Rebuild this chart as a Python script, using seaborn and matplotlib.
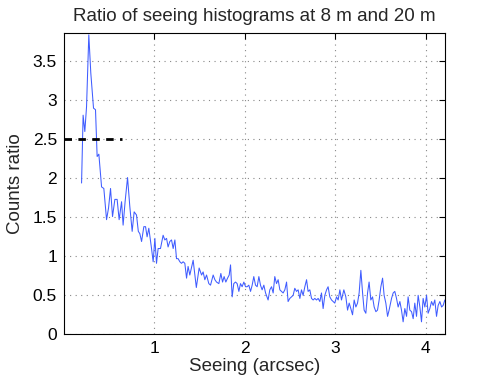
import numpy as np
import pandas as pd
import matplotlib
matplotlib.use("Agg")
import matplotlib.pyplot as plt
from matplotlib.ticker import FuncFormatter, FixedLocator
import seaborn as sns

seeing = [0.196,0.213,0.232,0.251,0.276,0.298,0.328,0.350,0.368,0.387,0.417,0.442,0.472,0.494,0.516,0.538,0.564,0.589,0.611,0.638,0.655,0.677,0.704,
          0.729,0.755,0.777,0.803,0.823,0.840,0.859,0.884,0.903,0.920,0.939,0.969,0.987,1.006,1.024,1.042,1.068,1.097,1.116,1.135,1.152,1.171,1.190,1.208,1.227,1.245,1.263,1.282,1.300,1.318,1.337,1.356,1.373,1.392,1.429,1.464,
          1.495,1.522,1.539,1.558,1.577,1.602,1.621,1.650,1.669,1.687,1.713,1.735,1.754,1.771,1.790,1.809,1.827,1.842,1.860,1.878,1.897,1.915,1.934,1.952,1.970,1.989,2.008,2.025,2.044,2.063,2.081,2.099,2.118,2.136,2.155,2.173,2.191,2.210,2.229,
          2.257,2.276,2.295,2.313,2.331,2.350,2.368,2.387,2.405,2.423,2.442,2.461,2.478,2.497,2.516,2.534,2.552,2.571,2.589,2.608,2.626,2.644,2.663,2.682,2.699,2.718,2.737,2.755,2.773,2.792,2.810,2.829,2.847,2.865,2.884,2.903,2.920,2.939,2.958,2.976,2.994,3.013,3.031,3.050,
          3.068,3.094,3.116,3.135,3.153,3.171,3.190,3.208,3.227,3.245,3.263,3.282,3.301,3.318,3.337,3.356,3.373,3.392,3.411,3.429,3.448,3.466,3.484,3.503,3.522,3.539,3.558,3.577,3.594,
          3.621,3.639,3.657,3.676,3.694,3.713,3.731,3.749,3.768,3.787,3.804,3.823,3.842,3.860,3.878,3.897,3.915,3.934,3.952,3.970,3.989,4.008,4.025,4.044,4.063,4.081,4.099,4.118,4.136,4.155,4.174,4.191,4.210]
ratio = [1.94,2.81,2.60,2.92,3.84,3.35,2.90,2.88,2.28,2.31,1.89,1.87,1.47,1.62,1.87,1.51,1.73,1.73,1.47,1.70,1.40,1.70,2.01,
         1.64,1.32,1.57,1.53,1.32,1.29,1.19,1.38,1.38,1.25,1.36,1.10,0.93,1.23,0.91,1.10,1.10,1.27,1.21,1.23,1.12,1.19,1.21,1.10,1.21,0.97,0.97,0.93,0.91,0.93,0.91,0.72,0.87,0.76,0.95,0.60,
         0.85,0.76,0.80,0.70,0.76,0.65,0.63,0.76,0.70,0.67,0.65,0.78,0.67,0.74,0.67,0.72,0.76,0.89,0.48,0.65,0.67,0.65,0.55,0.65,0.61,0.67,0.61,0.61,0.63,0.55,0.63,0.74,0.63,0.61,0.74,0.63,0.57,0.63,0.53,
         0.44,0.57,0.61,0.53,0.74,0.65,0.70,0.57,0.55,0.53,0.57,0.67,0.42,0.46,0.48,0.50,0.59,0.55,0.57,0.46,0.57,0.50,0.61,0.70,0.55,0.57,0.46,0.44,0.46,0.44,0.46,0.42,0.53,0.33,0.50,0.57,0.61,0.48,0.44,0.42,0.40,0.48,0.44,0.57,
         0.44,0.57,0.48,0.31,0.40,0.33,0.25,0.44,0.35,0.40,0.53,0.82,0.53,0.31,0.27,0.53,0.67,0.44,0.48,0.35,0.29,0.31,0.44,0.61,0.72,0.50,0.40,0.23,0.31,
         0.46,0.53,0.55,0.46,0.35,0.42,0.31,0.16,0.33,0.23,0.48,0.31,0.29,0.20,0.40,0.23,0.50,0.35,0.16,0.46,0.35,0.50,0.27,0.33,0.42,0.37,0.44,0.23,0.37,0.42,0.35,0.37,0.44]
thr_x = [0.0, 0.64]
thr_y = [2.5, 2.5]
x_ticks = [1, 2, 3, 4]
y_ticks = [0, 0.5, 1, 1.5, 2, 2.5, 3, 3.5]

df = pd.DataFrame({"seeing": seeing, "ratio": ratio})
thr = pd.DataFrame({"x": thr_x, "y": thr_y})

sns.set_style("white")
plt.rcParams["font.family"] = ["Liberation Sans", "DejaVu Sans"]

fig = plt.figure(figsize=(4.91, 3.81), dpi=100)
ax = fig.add_axes([0.130, 0.1226, 0.776, 0.790])

sns.lineplot(data=df, x="seeing", y="ratio", ax=ax, color="#3f5cff", lw=0.75,
             sort=False, estimator=None)
sns.lineplot(data=thr, x="x", y="y", ax=ax, color="black", lw=2.0,
             linestyle=(0, (2.7, 2.3)), sort=False, estimator=None)

ax.set_xlim(0, 4.21)
ax.set_ylim(0, 3.86)
ax.xaxis.set_major_locator(FixedLocator(x_ticks))
ax.yaxis.set_major_locator(FixedLocator(y_ticks))
fmt = FuncFormatter(lambda v, p: "%g" % v)
ax.xaxis.set_major_formatter(fmt)
ax.yaxis.set_major_formatter(fmt)
ax.tick_params(direction="in", length=4, width=0.8, top=True, right=True,
               labelsize=12.5, colors="black", pad=5)
ax.grid(True, linestyle=(0, (1, 4)), color="#888888", lw=0.8)
for s in ax.spines.values():
    s.set_visible(True)
    s.set_color("black")
    s.set_linewidth(0.8)

ax.set_xlabel("Seeing (arcsec)", fontsize=13.5, labelpad=1)
ax.set_ylabel("Counts ratio", fontsize=13.5, labelpad=6)
ax.set_title("Ratio of seeing histograms at 8 m and 20 m", fontsize=13.5, pad=9)

fig.savefig("out.png", dpi=100)
